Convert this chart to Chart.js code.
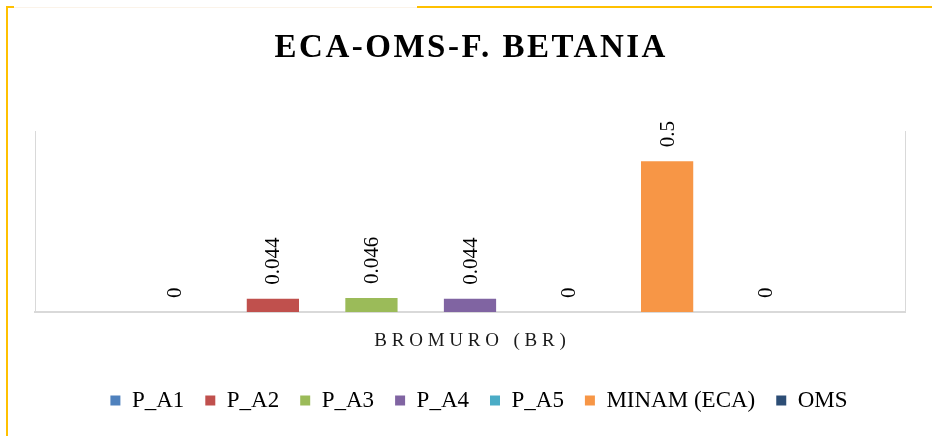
<!DOCTYPE html>
<html lang="es">
<head>
    <meta charset="UTF-8">
    <title>ECA-OMS-F. BETANIA</title>
    <script src="https://cdn.jsdelivr.net/npm/chart.js"></script>
    <style>
        body {
            margin: 0;
            background: #ffffff;
        }

        .wrap {
            position: relative;
            width: 932px;
            height: 436px;
            overflow: hidden;
        }

        .frame-left {
            position: absolute;
            left: 6px;
            top: 6px;
            width: 2px;
            height: 430px;
            background: #ffc000;
        }

        .frame-top {
            position: absolute;
            top: 6px;
            height: 2px;
            background: #ffc000;
        }

        .frame-faint {
            position: absolute;
            left: 14px;
            top: 7px;
            width: 403px;
            height: 1px;
            background: #fbf3e9;
        }
    </style>
</head>
<body>
    <div class="wrap">
        <canvas id="chart"></canvas>
        <div class="frame-left"></div>
        <div class="frame-top" style="left:6px;width:8px"></div>
        <div class="frame-top" style="left:417px;width:515px"></div>
        <div class="frame-faint"></div>
    </div>

    <script>
        // data
        const chartTitle = 'ECA-OMS-F. BETANIA';
        const categories = ['BROMURO (BR)'];
        const seriesNames = ['P_A1', 'P_A2', 'P_A3', 'P_A4', 'P_A5', 'MINAM (ECA)', 'OMS'];
        const seriesValues = [[0], [0.044], [0.046], [0.044], [0], [0.5], [0]];
        const seriesColors = ['#4f81bd', '#c0504d', '#9bbb59', '#8064a2', '#4bacc6', '#f79646', '#2c4d75'];

        const serif = '"Liberation Serif", "Times New Roman", serif';

        // title, category label and rotated value labels (letter spaced text)
        const textPlugin = {
            id: 'texts',
            afterLayout(chart) {
                // legend sits a bit right of centre in the original
                chart.legend.left += 18;
            },
            afterDatasetsDraw(chart) {
                const ctx = chart.ctx;
                ctx.save();
                ctx.fillStyle = '#000';
                ctx.font = '21px ' + serif;
                ctx.textAlign = 'left';
                ctx.textBaseline = 'middle';
                chart.data.datasets.forEach((ds, i) => {
                    chart.getDatasetMeta(i).data.forEach((bar, j) => {
                        ctx.save();
                        ctx.translate(bar.x + 1, bar.y - 14);
                        ctx.rotate(-Math.PI / 2);
                        ctx.fillText(String(ds.data[j]), 0, 0);
                        ctx.restore();
                    });
                });
                ctx.restore();
            },
            afterDraw(chart) {
                const ctx = chart.ctx;
                const cx = (chart.chartArea.left + chart.chartArea.right) / 2;
                ctx.save();
                ctx.fillStyle = '#000';
                ctx.textBaseline = 'alphabetic';
                ctx.textAlign = 'left';

                ctx.font = 'bold 33px ' + serif;
                ctx.letterSpacing = '2.5px';
                let w = ctx.measureText(chartTitle).width - 2.5;
                ctx.fillText(chartTitle, cx - w / 2, 57);

                const xs = chart.scales.x;
                ctx.font = '19px ' + serif;
                ctx.letterSpacing = '4.8px';
                ctx.fillStyle = '#1a1a1a';
                categories.forEach((c, i) => {
                    w = ctx.measureText(c).width - 4.8;
                    ctx.fillText(c, xs.getPixelForTick(i) - w / 2, 345.5);
                });
                ctx.restore();
            }
        };

        new Chart(document.getElementById('chart'), {
            type: 'bar',
            data: {
                labels: categories,
                datasets: seriesNames.map((name, i) => ({
                    label: name,
                    data: seriesValues[i],
                    backgroundColor: seriesColors[i],
                    borderWidth: 0,
                    categoryPercentage: 0.793,
                    barPercentage: 0.53
                }))
            },
            options: {
                responsive: true,
                maintainAspectRatio: false,
                animation: false,
                layout: {
                    padding: { top: 131, left: 27, right: 19, bottom: 14 }
                },
                plugins: {
                    title: { display: false },
                    tooltip: { enabled: false },
                    legend: {
                        position: 'bottom',
                        labels: {
                            color: '#000',
                            font: { family: serif, size: 23 },
                            boxWidth: 10,
                            boxHeight: 10,
                            padding: 21
                        }
                    }
                },
                scales: {
                    x: {
                        ticks: { display: false },
                        grid: { display: false },
                        border: { display: true, color: '#d9d9d9', width: 2 },
                        afterFit: s => { s.height = 56; }
                    },
                    y: {
                        min: 0,
                        max: 0.6,
                        ticks: { display: false },
                        grid: { display: false },
                        border: { display: true, color: '#d9d9d9', width: 1 }
                    },
                    y2: {
                        position: 'right',
                        min: 0,
                        max: 0.6,
                        ticks: { display: false },
                        grid: { display: false },
                        border: { display: true, color: '#d9d9d9', width: 1 }
                    }
                }
            },
            plugins: [textPlugin]
        });
    </script>
</body>
</html>
